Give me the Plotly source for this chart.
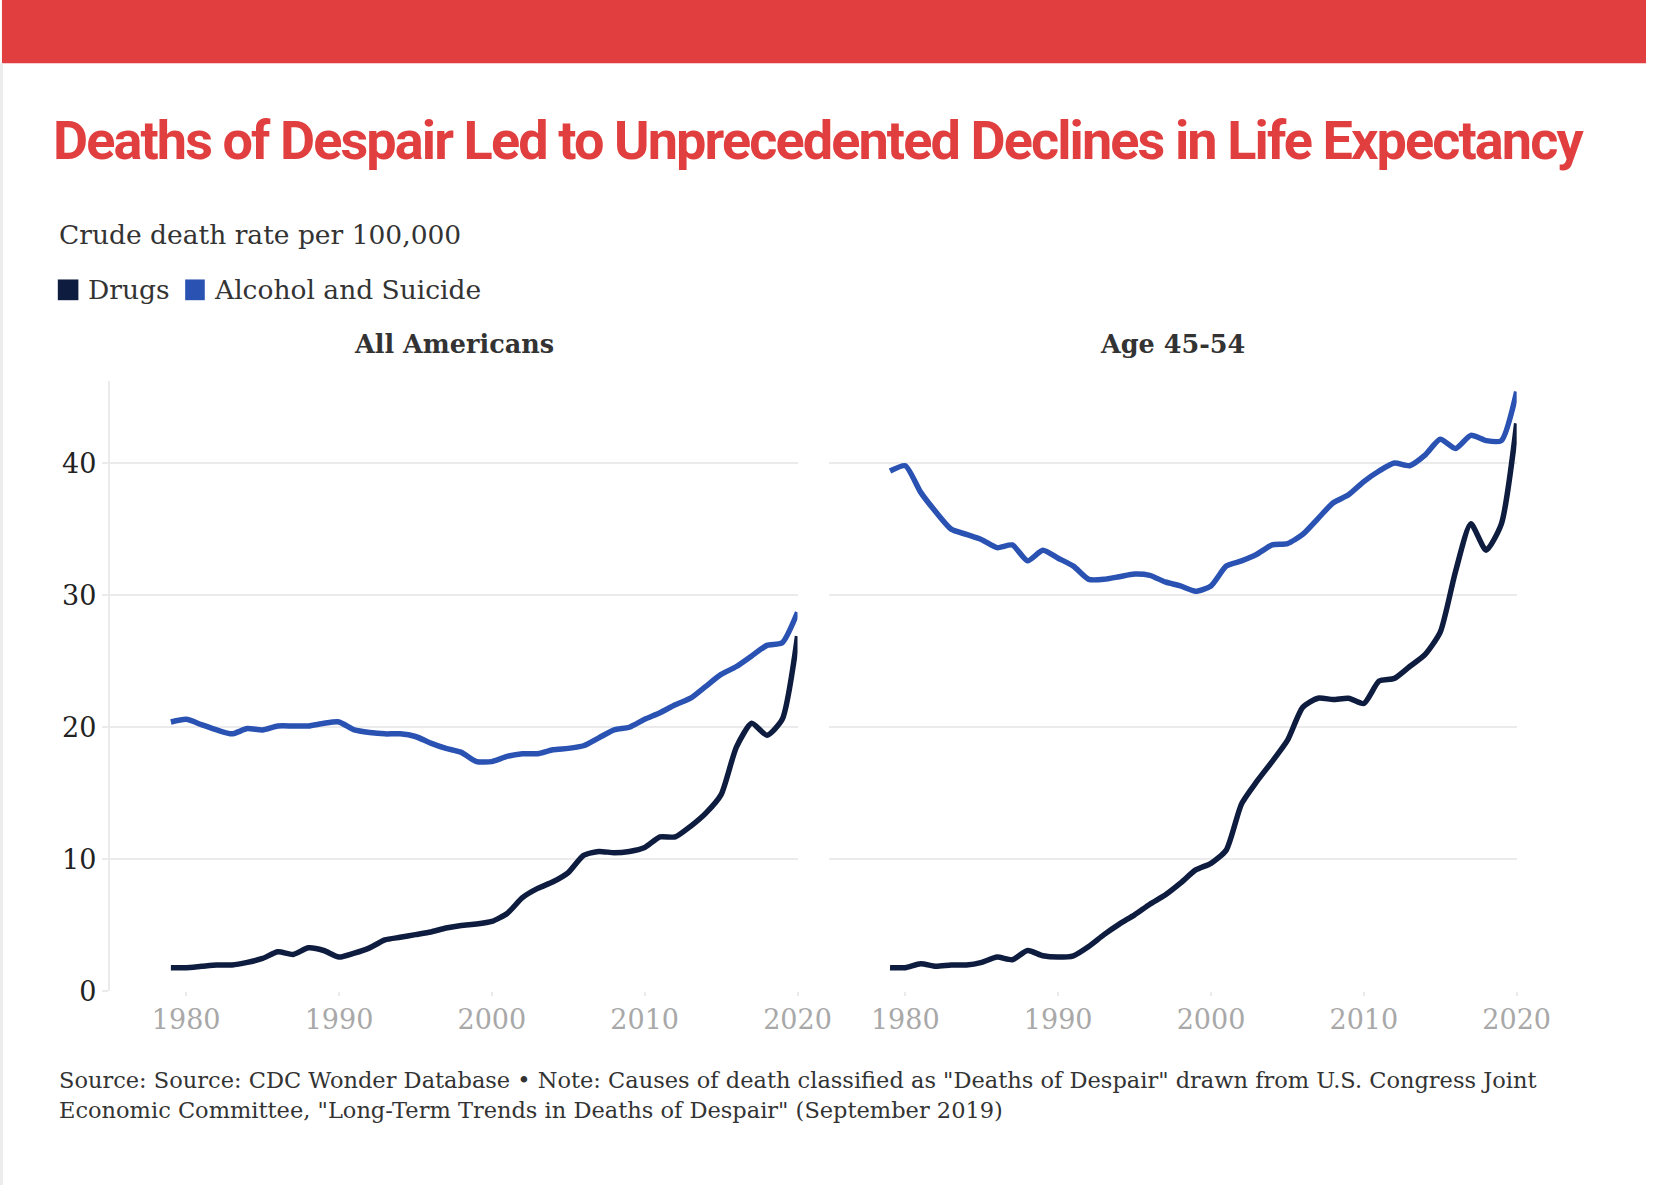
import plotly.graph_objects as go

W, H = 1680, 1200

years = list(range(1979, 2021))

all_drugs = [1.8, 1.8, 1.9, 2.0, 2.0, 2.2, 2.5, 3.0, 2.8, 3.3, 3.1, 2.6, 2.9, 3.3, 3.9,
             4.1, 4.3, 4.5, 4.8, 5.0, 5.1, 5.3, 5.9, 7.1, 7.8, 8.3, 9.0, 10.3, 10.6, 10.5,
             10.6, 10.9, 11.7, 11.7, 12.5, 13.5, 14.9, 18.5, 20.3, 19.4, 20.6, 26.9]
all_alc = [20.4, 20.6, 20.2, 19.8, 19.5, 19.9, 19.8, 20.1, 20.1, 20.1, 20.3, 20.4, 19.8,
           19.6, 19.5, 19.5, 19.3, 18.8, 18.4, 18.1, 17.4, 17.4, 17.8, 18.0, 18.0, 18.3,
           18.4, 18.6, 19.2, 19.8, 20.0, 20.6, 21.1, 21.7, 22.2, 23.1, 24.0, 24.6, 25.4,
           26.2, 26.4, 28.7]
mid_drugs = [1.8, 1.8, 2.1, 1.9, 2.0, 2.0, 2.2, 2.6, 2.4, 3.1, 2.7, 2.6, 2.7, 3.4, 4.3,
             5.1, 5.8, 6.6, 7.3, 8.2, 9.2, 9.7, 10.7, 14.2, 15.9, 17.4, 19.0, 21.5, 22.2,
             22.1, 22.2, 21.8, 23.5, 23.7, 24.6, 25.5, 27.2, 31.8, 35.4, 33.4, 35.4, 43.0]
mid_alc = [39.4, 39.8, 37.8, 36.3, 35.0, 34.6, 34.2, 33.6, 33.8, 32.6, 33.4, 32.8, 32.2,
           31.2, 31.2, 31.4, 31.6, 31.5, 31.0, 30.7, 30.3, 30.7, 32.2, 32.6, 33.1, 33.8,
           33.9, 34.6, 35.8, 37.0, 37.6, 38.6, 39.4, 40.0, 39.8, 40.6, 41.8, 41.1, 42.1,
           41.7, 41.7, 45.4]

series_names = ["Drugs", "Alcohol and Suicide"]
panel_titles = ["All Americans", "Age 45-54"]
x_ticks = [1980, 1990, 2000, 2010, 2020]
y_ticks = [0, 10, 20, 30, 40]

C_DRUGS = "#0e1c3f"
C_ALC = "#2a52b2"
RED = "#e13f3f"
SERIF = "DejaVu Serif"
GRID = "#ebebeb"


def px(x):
    return x / W


def py(y):
    return 1 - y / H


fig = go.Figure()
for xa, ya, d, a in [("x", "y", all_drugs, all_alc), ("x2", "y2", mid_drugs, mid_alc)]:
    fig.add_trace(go.Scatter(x=years, y=a, xaxis=xa, yaxis=ya, mode="lines",
                             line=dict(color=C_ALC, width=5.5, shape="spline", smoothing=0.6),
                             name=series_names[1], showlegend=False, hoverinfo="skip"))
    fig.add_trace(go.Scatter(x=years, y=d, xaxis=xa, yaxis=ya, mode="lines",
                             line=dict(color=C_DRUGS, width=5.5, shape="spline", smoothing=0.6),
                             name=series_names[0], showlegend=False, hoverinfo="skip"))

ydom = [py(1004), py(386)]
xcommon = dict(range=[1975, 2020], tickvals=x_ticks, showgrid=False, zeroline=False,
               showline=False, ticks="outside", ticklen=4, tickcolor=GRID, tickwidth=2,
               tickfont=dict(family=SERIF, size=27, color="#a8a8a8"))
ycommon = dict(range=[0, 46.2], tickvals=y_ticks, showgrid=True, gridcolor=GRID, gridwidth=2,
               zeroline=False, domain=ydom)

fig.update_layout(
    width=W, height=H, margin=dict(l=0, r=0, t=0, b=0),
    paper_bgcolor="white", plot_bgcolor="white", showlegend=False,
    xaxis=dict(domain=[px(112), px(814)], anchor="y", **xcommon),
    xaxis2=dict(domain=[px(846), px(1548)], anchor="y2", **xcommon),
    yaxis=dict(anchor="x", showline=True, linecolor=GRID, linewidth=2, ticks="outside",
               ticklen=6, tickcolor=GRID, tickwidth=2, ticklabelstandoff=0,
               tickfont=dict(family=SERIF, size=27, color="#222222"), **ycommon),
    yaxis2=dict(anchor="x2", showline=False, showticklabels=False, ticks="", **ycommon),
)

shapes = [
    dict(type="rect", xref="paper", yref="paper", x0=px(2), x1=1, y0=py(64), y1=1,
         fillcolor=RED, line=dict(width=0), layer="above"),
    dict(type="rect", xref="paper", yref="paper", x0=0, x1=px(3), y0=0, y1=py(64),
         fillcolor="#ececec", line=dict(width=0)),
    dict(type="rect", xref="paper", yref="paper", x0=px(59), x1=px(80), y0=py(304), y1=py(283),
         fillcolor=C_DRUGS, line=dict(width=0)),
    dict(type="rect", xref="paper", yref="paper", x0=px(189), x1=px(209), y0=py(304), y1=py(283),
         fillcolor=C_ALC, line=dict(width=0)),
]
fig.update_layout(shapes=shapes)

ann = []


def text(x, y, s, size, color="#333333", family=SERIF, xanchor="left", bold=False):
    ann.append(dict(x=px(x), y=py(y), xref="paper", yref="paper", text=(f"<b>{s}</b>" if bold else s),
                    showarrow=False, xanchor=xanchor, yanchor="middle",
                    font=dict(family=family, size=size, color=color)))


title = "Deaths of Despair Led to Unprecedented Declines in Life Expectancy"
text(52, 142, f'<span style="letter-spacing:-1.9px">{title}</span>', 54,
     color=RED, family="Roboto", bold=True)
text(58, 237, "Crude death rate per 100,000", 26.5)
text(88, 293, series_names[0], 26.5)
text(216, 293, series_names[1], 26.5)
text(463, 348, panel_titles[0], 25.5, xanchor="center", bold=True)
text(1197, 348, panel_titles[1], 25.5, xanchor="center", bold=True)
text(58, 1094, 'Source: Source: CDC Wonder Database • Note: Causes of death classified as "Deaths of Despair" drawn from U.S. Congress Joint', 22.5)
text(58, 1124, 'Economic Committee, "Long-Term Trends in Deaths of Despair" (September 2019)', 22.5)
fig.update_layout(annotations=ann)

fig.write_html("out.html", config={"displayModeBar": False},
               post_script="document.body.style.margin='0';")
